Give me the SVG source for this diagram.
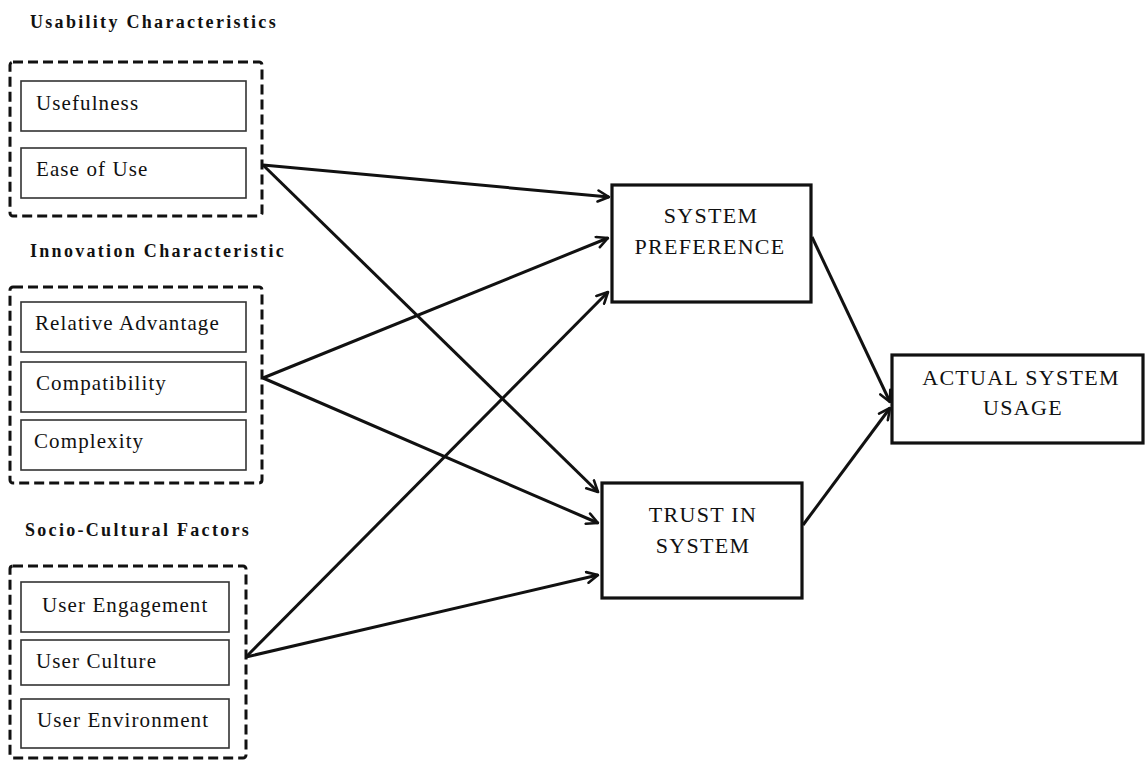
<svg xmlns="http://www.w3.org/2000/svg" width="1146" height="761" viewBox="0 0 1146 761">
<style>
.title{font-family:"Liberation Serif","Times New Roman",serif;font-weight:bold;font-size:18px;letter-spacing:2.3px;fill:#111}
.lbl{font-family:"Liberation Serif","Times New Roman",serif;font-size:21px;letter-spacing:1.1px;fill:#111}
.nlbl{font-family:"Liberation Serif","Times New Roman",serif;font-size:22px;letter-spacing:1.3px;fill:#111;text-anchor:middle}
.grp{fill:none;stroke:#111;stroke-width:3;stroke-dasharray:10 5}
.item{fill:#fff;stroke:#333;stroke-width:1.6}
.node{fill:#fff;stroke:#111;stroke-width:3.2}
.conn{stroke:#111;stroke-width:3;fill:none;marker-end:url(#ah)}
</style>
<defs>
<marker id="ah" viewBox="0 0 14 14" refX="12.5" refY="7" markerWidth="14" markerHeight="14" markerUnits="userSpaceOnUse" orient="auto">
<path d="M1.5,1.5 L12.5,7 L1.5,12.5" fill="none" stroke="#111" stroke-width="2.6" stroke-linecap="round" stroke-linejoin="round"/>
</marker>
</defs>
<rect width="1146" height="761" fill="#fff"/>

<g id="usability">
<text class="title" x="30" y="28">Usability Characteristics</text>
<rect class="grp" x="10" y="62" width="252" height="154" rx="3"/>
<g id="usefulness"><rect class="item" x="21" y="81" width="225" height="50"/><text class="lbl" x="36" y="110">Usefulness</text></g>
<g id="ease-of-use"><rect class="item" x="21" y="148" width="225" height="50"/><text class="lbl" x="36" y="176">Ease of Use</text></g>
</g>

<g id="innovation">
<text class="title" x="30" y="257">Innovation Characteristic</text>
<rect class="grp" x="10" y="287" width="252" height="196" rx="3"/>
<g id="relative-advantage"><rect class="item" x="21" y="302" width="225" height="50"/><text class="lbl" x="35" y="330">Relative Advantage</text></g>
<g id="compatibility"><rect class="item" x="21" y="362" width="225" height="50"/><text class="lbl" x="36" y="390">Compatibility</text></g>
<g id="complexity"><rect class="item" x="21" y="420" width="225" height="50"/><text class="lbl" x="34" y="448">Complexity</text></g>
</g>

<g id="socio-cultural">
<text class="title" x="25" y="536">Socio-Cultural Factors</text>
<rect class="grp" x="10" y="566" width="236" height="192" rx="3"/>
<g id="user-engagement"><rect class="item" x="21" y="582" width="208" height="50"/><text class="lbl" x="42" y="612">User Engagement</text></g>
<g id="user-culture"><rect class="item" x="21" y="640" width="208" height="45"/><text class="lbl" x="36" y="668">User Culture</text></g>
<g id="user-environment"><rect class="item" x="21" y="699" width="208" height="49"/><text class="lbl" x="37" y="727">User Environment</text></g>
</g>

<g id="system-preference">
<rect class="node" x="612" y="185" width="199" height="117"/>
<text class="nlbl" x="711" y="223">SYSTEM</text>
<text class="nlbl" x="710" y="254">PREFERENCE</text>
</g>

<g id="trust-in-system">
<rect class="node" x="602" y="483" width="200" height="115"/>
<text class="nlbl" x="703" y="522">TRUST IN</text>
<text class="nlbl" x="703" y="553">SYSTEM</text>
</g>

<g id="actual-system-usage">
<rect class="node" x="892" y="355" width="251" height="88"/>
<text class="nlbl" x="1021" y="385">ACTUAL SYSTEM</text>
<text class="nlbl" x="1023" y="415">USAGE</text>
</g>

<g id="connectors">
<line class="conn" x1="263" y1="165" x2="609" y2="197"/>
<line class="conn" x1="263" y1="165" x2="598" y2="492"/>
<line class="conn" x1="263" y1="378" x2="608" y2="238"/>
<line class="conn" x1="263" y1="378" x2="598" y2="523"/>
<line class="conn" x1="246" y1="657" x2="608" y2="292"/>
<line class="conn" x1="246" y1="657" x2="598" y2="575"/>
<line class="conn" x1="812" y1="237" x2="890" y2="402"/>
<line class="conn" x1="803" y1="525" x2="890" y2="408"/>
</g>
</svg>
